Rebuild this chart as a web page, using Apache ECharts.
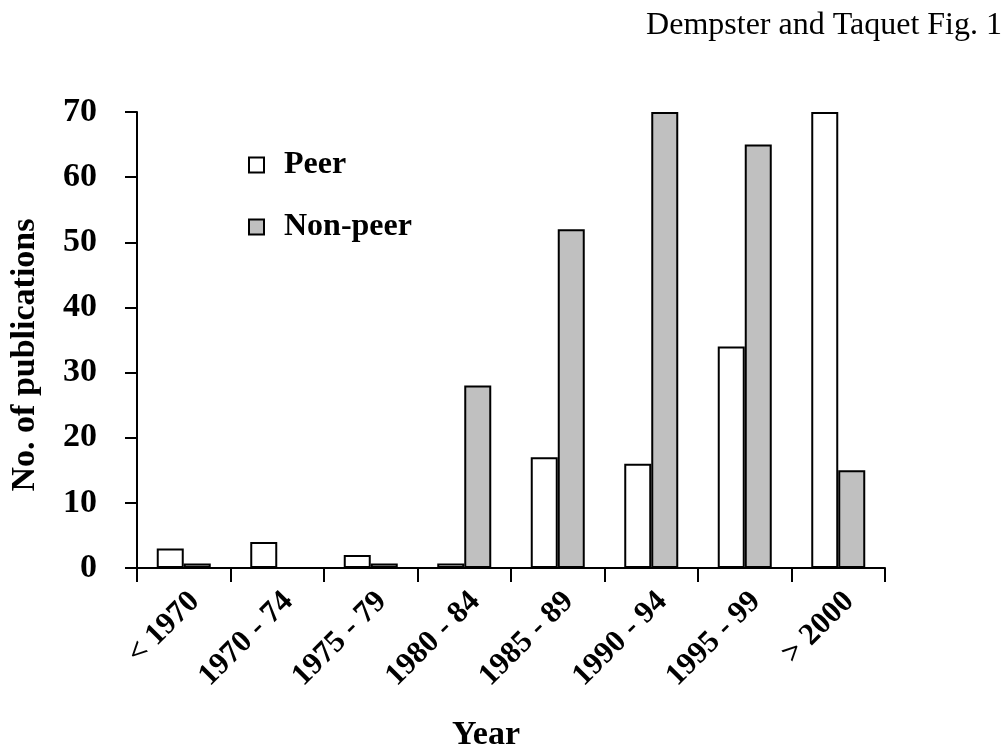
<!DOCTYPE html>
<html>
<head>
<meta charset="utf-8">
<script src="https://cdn.jsdelivr.net/npm/echarts@6/dist/echarts.min.js"></script>
<style>
html,body{margin:0;padding:0;background:#fff;}
#chart{width:1002px;height:747px;}
</style>
</head>
<body>
<div id="chart"></div>
<script>
const categories = ['< 1970', '1970 - 74', '1975 - 79', '1980 - 84', '1985 - 89', '1990 - 94', '1995 - 99', '> 2000'];
const peerValues = [3, 4, 2, 0.7, 17, 16, 34, 70];
const nonPeerValues = [0.7, 0, 0.7, 28, 52, 70, 65, 15];
const yTicks = [0, 10, 20, 30, 40, 50, 60, 70];

const FONT = "'Liberation Serif', 'Times New Roman', serif";
const chart = echarts.init(document.getElementById('chart'), null, {renderer: 'canvas'});
chart.setOption({
  backgroundColor: '#fff',
  animation: false,
  title: {
    text: 'Dempster and Taquet Fig. 1',
    right: 0,
    top: 10,
    padding: 0,
    textStyle: {fontFamily: FONT, fontWeight: 'normal', fontSize: 32, color: '#000'}
  },
  legend: {
    orient: 'vertical',
    left: 248,
    top: 148,
    padding: 0,
    itemWidth: 15,
    itemHeight: 15,
    itemGap: 28,
    icon: 'rect',
    textStyle: {fontFamily: FONT, fontWeight: 'bold', fontSize: 32, color: '#000', lineHeight: 34, padding: [0, 0, 0, 15]},
    data: ['Peer', 'Non-peer']
  },
  grid: {left: 137, right: 117, top: 112, bottom: 179, containLabel: false, outerBoundsMode: 'none'},
  xAxis: {
    type: 'category',
    data: categories,
    name: 'Year',
    nameLocation: 'middle',
    nameGap: 150,
    nameTextStyle: {fontFamily: FONT, fontWeight: 'bold', fontSize: 34, color: '#000', padding: [0, 50, 0, 0]},
    axisLine: {lineStyle: {color: '#000', width: 2}},
    axisTick: {show: true, alignWithLabel: false, length: 14, lineStyle: {color: '#000', width: 2}},
    axisLabel: {
      interval: 0,
      rotate: 45,
      margin: 18,
      verticalAlign: 'top',
      fontFamily: FONT, fontWeight: 'bold', fontSize: 31, color: '#000'
    }
  },
  yAxis: {
    type: 'value',
    min: yTicks[0],
    max: yTicks[yTicks.length - 1],
    interval: 10,
    name: 'No. of publications',
    nameLocation: 'middle',
    nameGap: 95,
    nameTextStyle: {fontFamily: FONT, fontWeight: 'bold', fontSize: 34, color: '#000', padding: [0, 30, 0, 0]},
    axisLine: {show: true, lineStyle: {color: '#000', width: 2}},
    axisTick: {show: true, length: 12, lineStyle: {color: '#000', width: 2}},
    splitLine: {show: false},
    axisLabel: {margin: 40, fontFamily: FONT, fontWeight: 'bold', fontSize: 34, color: '#000'}
  },
  series: [
    {
      name: 'Peer',
      type: 'bar',
      data: peerValues,
      barWidth: 27,
      barGap: '0%',
      itemStyle: {color: '#ffffff', borderColor: '#000', borderWidth: 2}
    },
    {
      name: 'Non-peer',
      type: 'bar',
      data: nonPeerValues,
      barWidth: 27,
      barGap: '0%',
      itemStyle: {color: '#c0c0c0', borderColor: '#000', borderWidth: 2}
    }
  ]
});
</script>
</body>
</html>
